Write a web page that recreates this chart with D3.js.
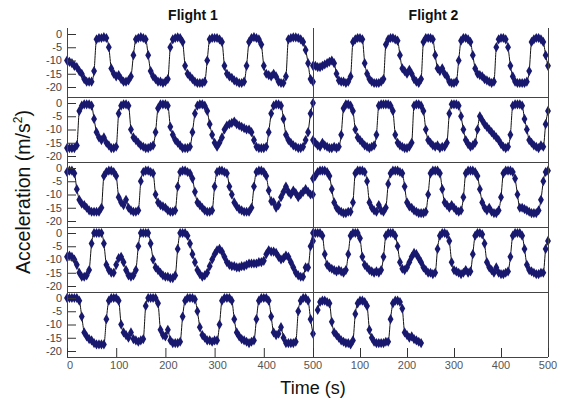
<!DOCTYPE html>
<html>
<head>
<meta charset="utf-8">
<script src="https://cdn.jsdelivr.net/npm/d3@7"></script>
<style>
  body { margin: 0; background: #fff; }
  svg { display: block; font-family: "Liberation Sans", Arial, sans-serif; }
</style>
</head>
<body>
<div id="chart"></div>
<script>
// sample times (s), one reading every 5 s
const times = d3.range(0, 505, 5);
const flights = ["Flight 1", "Flight 2"];
const yTicks = [0, -5, -10, -15, -20];
const xTicks = [0, 100, 200, 300, 400, 500];

// acceleration (m/s^2) per run
const f1r1 = [-10,-10.5,-11,-12,-12.5,-14,-15,-17,-18,-18,-18,-14,-2,-1.5,-1.5,-1.2,-1.5,-5,-13,-15,-16,-15.5,-17,-18,-18,-17.5,-16,-8,-2,-1.5,-1.2,-1.5,-2,-8,-14,-16,-17,-18,-18,-18.5,-18,-17,-5,-2,-1.5,-1.3,-1.5,-3,-12,-15,-16,-17,-18,-18.5,-18.5,-18.5,-18,-10,-2,-1.5,-1.5,-1.5,-2,-3,-12,-15,-16,-16.5,-17.5,-18,-18.5,-18.5,-18,-12,-3,-1.5,-1.2,-1.5,-2,-4,-12,-15,-15.5,-16,-15,-16,-18,-18.5,-18.5,-16,-2,-1.5,-1.3,-1.3,-1.5,-2,-3,-6,-11,-17,-18];
const f2r1 = [-12,-12,-12.5,-12.5,-12,-11.5,-11,-10.5,-10,-11,-15,-17.5,-18,-18,-18.5,-18,-16,-3,-2,-1.5,-1.5,-2,-11,-15,-17,-18,-18.5,-18.5,-18.5,-18,-17,-4,-2,-1.5,-1.5,-2,-2.5,-8,-13,-14,-15,-13.5,-15,-17,-18,-18.5,-17,-3,-1.5,-1.5,-1.5,-2,-8,-13,-14,-13,-15,-16,-18,-18.5,-18.5,-18,-10,-2.5,-1.5,-1.5,-2,-3,-8,-13,-15,-15.5,-16,-17,-17.5,-18,-18.5,-18,-5,-2,-1.5,-1.5,-2,-5,-12,-16,-18,-18.5,-18.5,-18.5,-18.5,-18,-14,-3,-2,-1.5,-1.5,-2,-3,-8,-12];
const f1r2 = [-17,-17,-17,-17,-16,-3,-1,-0.5,-0.5,-0.5,-1,-6,-11,-13,-14,-13,-15,-16,-17,-17,-16.5,-4,-1,-0.5,-0.5,-1,-10,-13,-14,-15,-16,-16.5,-17,-17,-16.5,-16,-11,-2,-0.5,-0.5,-0.5,-1,-9,-12,-14,-15,-16,-17,-17,-17,-16.5,-11,-4,-1,-0.5,-0.5,-1,-3,-8,-12,-15,-16.5,-15,-13,-10,-8.5,-8,-7.5,-7,-8,-8.5,-9,-9.5,-10,-10,-11,-14,-16.5,-17,-17,-17,-16.5,-11,-4,-1,-0.5,-0.5,-1,-6,-12,-14,-15,-16,-16.5,-17,-17,-16.5,-14,-11,-4,0];
const f2r2 = [-14,-15,-16,-16.5,-15,-16,-16.5,-17,-17,-16.5,-17,-16.5,-12,-2,-0.5,-0.5,-1,-3,-10,-13,-14,-15,-16,-16.5,-17,-16.5,-16,-12,-1,-0.5,-0.5,-0.5,-0.5,-1,-3,-12,-15,-16,-16.5,-17,-17,-16.5,-15,-1,-0.5,-0.5,-1,-3,-10,-14,-15,-16,-16.5,-16,-17,-16.5,-16.5,-15,-4,-0.5,-0.5,-0.5,-1,-5,-10,-14,-15.5,-16.5,-16,-15,-10,-5,-6.5,-8,-9,-10,-11,-12,-13,-14,-15.5,-16.5,-17,-16.5,-12,-1,-0.5,-0.5,-0.5,-1,-6,-10,-14,-15,-16,-16.5,-17,-16,-16.5,-8,-3];
const f1r3 = [-1.5,-1,-1,-2,-8,-12,-13.5,-14,-15,-16,-16.5,-16.5,-16.5,-16.5,-15,-3,-1.5,-1,-1,-1.5,-3,-11,-13,-14,-12,-15,-16,-16.5,-16.5,-16,-5,-1.5,-1,-1,-1.5,-2,-10,-13,-14,-14.5,-15,-16,-16.5,-16.5,-16,-7,-1.5,-1,-1,-1.5,-2,-4,-9,-13,-14,-15,-16,-16.5,-16.5,-16,-7,-1.5,-1,-1,-1.5,-2,-7,-10,-13,-14.5,-15.5,-16,-16.5,-16.5,-16.5,-15,-7,-1.5,-1,-1,-1.5,-3,-8.5,-12.5,-13,-15,-14,-11,-9,-7,-9,-10,-8.5,-9.5,-11,-10,-9,-8,-9,-10,-10];
const f2r3 = [-4,-3,-1.5,-1,-1,-1,-1.5,-3,-8,-13,-15,-16,-16.5,-17,-17,-16.5,-16.5,-13,-2,-1,-1,-1,-1.5,-5,-13,-15,-16,-16.5,-14,-16,-16.5,-15,-6,-2,-1,-1,-1,-1.5,-2,-7,-13,-14.5,-15,-16,-16.5,-17,-17,-17,-16.5,-10,-2,-1,-1,-1,-2,-8,-13,-14,-15,-14,-15,-16,-16.5,-16,-11,-2,-1,-1,-1,-1.5,-3,-8,-13,-15,-16,-15,-16.5,-17,-17,-16,-11,-2,-1,-1,-1,-1.5,-4,-10,-15,-15,-15.5,-16,-16.5,-17,-17,-17,-16,-12,-5,-1.5,-1];
const f1r4 = [-9,-8.5,-9,-10,-12,-15,-16.5,-16.5,-16,-14,-4,0,0,0,0,-4,-12,-14,-15,-15,-12,-9.5,-9,-11,-14,-16,-16.5,-16,-14,-5,0,0,0,0,-4,-10,-13,-14,-15,-16,-16.5,-16.5,-17,-17,-16,-6,0,0,0,-1,-4,-8,-11,-14,-15.5,-16.5,-16,-15,-12.5,-10,-8,-6.5,-6,-7,-9,-11,-12,-12.5,-12.5,-13,-13,-12.5,-12.5,-12,-11.5,-11.5,-11.5,-11.5,-11,-11,-10.5,-8,-6.5,-7,-7,-7.5,-9,-10,-9.5,-8.5,-9,-11,-13,-15,-16,-16.5,-16.5,-13,-13,-5,0];
const f2r4 = [-3,0,0,0,-1,-8,-12,-13,-13.5,-14,-14.5,-14,-14.5,-15,-14,-8,-1,0,0,0,-2,-9,-12,-13,-14,-14.5,-15,-14.5,-15,-14,-9,-1,0,0,0,-1,-5,-11,-13.5,-14,-13,-11,-9,-7.5,-8,-9.5,-11,-13,-14,-15,-15,-15.5,-15,-6,-1,0,0,-0.5,-3,-11,-14,-14.5,-15,-15.5,-15,-14,-15,-14.5,-8,-1,0,0,-0.5,-4,-11,-13,-14,-15,-13,-15,-15.5,-15.5,-15,-14.5,-9,-1,0,0,0,-1,-6,-12,-14,-14.5,-15,-15.5,-15.5,-15,-15,-6,-3];
const f1r5 = [0,0,0,0,0,-1,-7,-13,-14.5,-15.5,-16,-17,-17.5,-17.5,-17.5,-17.5,-8,-1,0,0,0,-1,-10,-13,-14,-15,-13,-15.5,-16,-16.5,-16,-15.5,-3,0,0,0,0,-2,-12,-14,-14.5,-12,-16,-17,-17,-17,-16.5,-7,-1,0,0,0,-0.5,-5,-11,-14,-15,-16,-16,-16.5,-16,-16,-10,-1,0,0,0,-1,-8,-13,-14.5,-15.5,-16,-16.5,-17,-16.5,-16,-8,-1,0,0,0,-1,-7,-13,-14,-13.5,-11,-15,-17,-17,-17,-17,-16.5,-5,-1,0,0,-1,-8,-13.5];
const f2r5 = [null,null,-4.5,-1.5,-1,-1,-1.5,-2,-9,-13,-14,-15,-16,-16.5,-17,-17,-17.5,-16,-6,-2,-1,-1,-1.5,-3,-12,-15,-16.5,-17,-17,-17,-17,-16.5,-16.5,-8,-2,-1,-1,-1.5,-4,-13,-14,-15,-14.5,-15.5,-16,-16.5,-17];

// rows top to bottom, columns Flight 1 / Flight 2
const runs = [
  [f1r1, f2r1],
  [f1r2, f2r2],
  [f1r3, f2r3],
  [f1r4, f2r4],
  [f1r5, f2r5]
];

const width = 562, height = 402;
const rowTops = [28, 97, 162, 227, 292];
const bottom = 357;
const colEdges = [67, 313, 548];

const svg = d3.select("#chart").append("svg")
    .attr("width", width)
    .attr("height", height);

const xs = flights.map((f, c) => d3.scaleLinear().domain([0, 500]).range([colEdges[c], colEdges[c + 1]]));
const ys = rowTops.map(top => d3.scaleLinear().domain([0, -20]).range([top + 6, top + 59]));

const symbol = d3.symbol().type(d3.symbolDiamond).size(30);

runs.forEach((row, r) => {
  row.forEach((vals, c) => {
    const x = xs[c], y = ys[r];
    const pts = vals.map((v, i) => ({t: times[i], a: v})).filter(d => d.a != null);

    const line = d3.line()
        .x(d => x(d.t))
        .y(d => y(d.a))
        .curve(d3.curveMonotoneX);

    const g = svg.append("g");
    g.append("path")
        .datum(pts)
        .attr("d", line)
        .attr("fill", "none")
        .attr("stroke", "#111")
        .attr("stroke-width", 1);

    g.selectAll("path.pt")
        .data(pts)
        .enter().append("path")
        .attr("class", "pt")
        .attr("d", symbol)
        .attr("transform", d => "translate(" + x(d.t) + "," + y(d.a) + ")")
        .attr("fill", "#18186f");
  });

  // y axis on the left only, ticks pointing inward
  const yAxis = svg.append("g")
      .attr("transform", "translate(" + colEdges[0] + ",0)")
      .call(d3.axisRight(ys[r]).tickValues(yTicks).tickSize(9).tickFormat(""));
  yAxis.select(".domain").remove();
  yAxis.selectAll("line").attr("stroke", "#333");

  svg.append("g").selectAll("text")
      .data(yTicks)
      .enter().append("text")
      .attr("x", 62)
      .attr("y", d => ys[r](d))
      .attr("dy", "0.35em")
      .attr("text-anchor", "end")
      .attr("font-size", 11)
      .attr("fill", "#444")
      .text(d => d);
});

// frame and dividers
const frame = svg.append("g").attr("stroke", "#444").attr("stroke-width", 1).attr("shape-rendering", "crispEdges");
rowTops.slice(1).concat([bottom]).forEach(yy => {
  frame.append("line").attr("x1", colEdges[0]).attr("x2", colEdges[2]).attr("y1", yy).attr("y2", yy);
});
colEdges.forEach(xx => {
  frame.append("line").attr("x1", xx).attr("x2", xx).attr("y1", rowTops[0]).attr("y2", bottom);
});

// x axes along the bottom, ticks inward
xs.forEach((x, c) => {
  const xa = svg.append("g")
      .attr("transform", "translate(0," + bottom + ")")
      .call(d3.axisTop(x).tickValues(xTicks).tickSize(9).tickFormat(""));
  xa.select(".domain").remove();
  xa.selectAll("line").attr("stroke", "#333");

  svg.append("g").selectAll("text")
      .data(c == 0 ? xTicks : xTicks.slice(1))
      .enter().append("text")
      .attr("x", d => x(d) + (c == 0 && d < 500 ? 3 : 0))
      .attr("y", 369)
      .attr("text-anchor", "middle")
      .attr("font-size", 11)
      .attr("fill", "#555")
      .text(d => d);
});

// titles
flights.forEach((f, c) => {
  svg.append("text")
      .attr("x", (colEdges[c] + colEdges[c + 1]) / 2 + 3)
      .attr("y", 20)
      .attr("text-anchor", "middle")
      .attr("font-size", 14)
      .attr("font-weight", "bold")
      .attr("fill", "#111")
      .text(f);
});

svg.append("text")
    .attr("x", 313)
    .attr("y", 394)
    .attr("text-anchor", "middle")
    .attr("font-size", 18)
    .attr("fill", "#111")
    .text("Time (s)");

const yt = svg.append("text")
    .attr("transform", "translate(30,192) rotate(-90)")
    .attr("text-anchor", "middle")
    .attr("font-size", 19.5)
    .attr("fill", "#111");
yt.append("tspan").text("Acceleration (m/s");
yt.append("tspan").attr("font-size", 12).attr("dy", -8).text("2");
yt.append("tspan").attr("dy", 8).text(")");
</script>
</body>
</html>
